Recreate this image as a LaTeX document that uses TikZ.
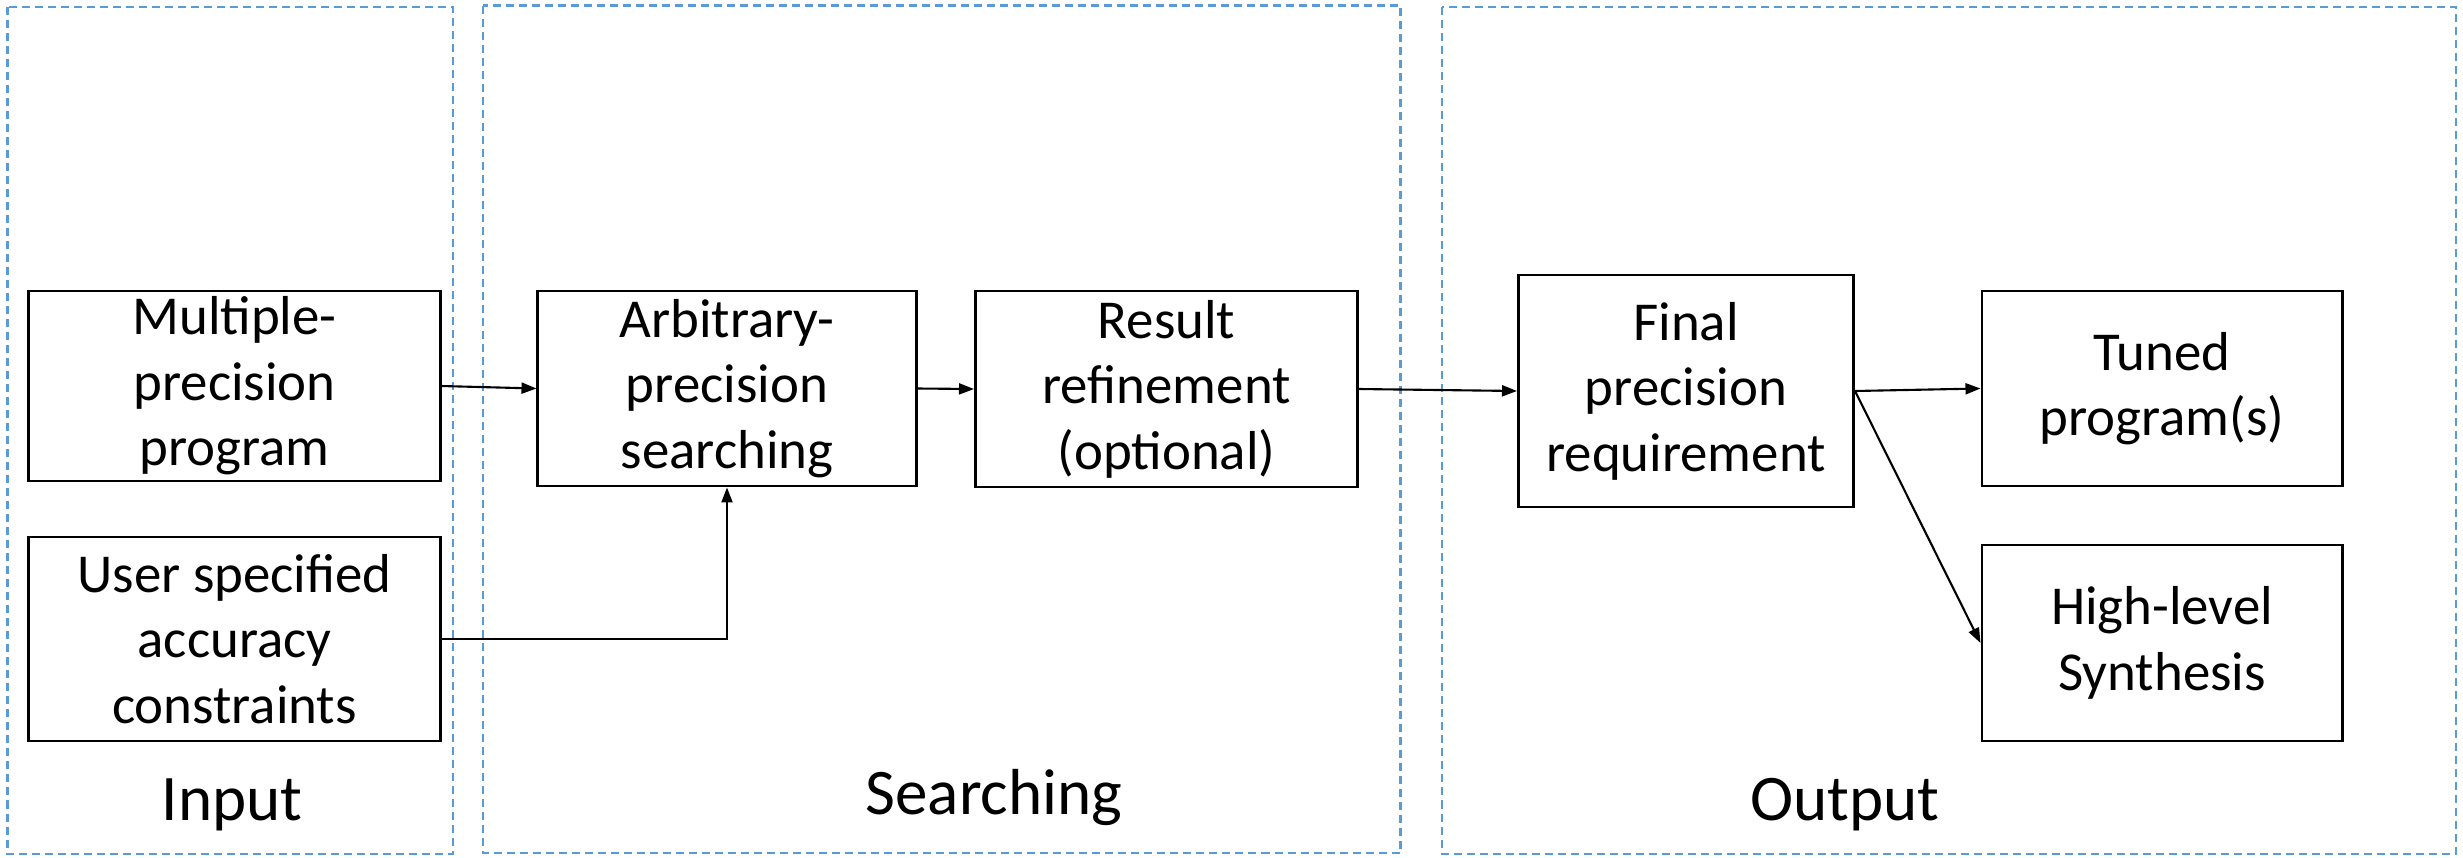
\documentclass[tikz,border=0pt]{standalone}
\usepackage{fontspec}
\setmainfont{Carlito}
\usetikzlibrary{arrows.meta}
\definecolor{grpblue}{RGB}{91,155,213}
\tikzset{
  stepbox/.style={draw=black, line width=0.8pt, align=center, inner sep=0pt,
    font=\fontsize{15.6pt}{18.6pt}\selectfont},
  grp/.style={draw=grpblue, line width=0.6pt, dash pattern=on 0.08cm off 0.05cm},
  grplabel/.style={anchor=base, font=\fontsize{18.5pt}{22pt}\selectfont, inner sep=0pt},
  conn/.style={line width=0.6pt, -{Triangle[length=0.15cm,width=0.11cm]}}
}
\begin{document}
\begin{tikzpicture}[x=0.01cm, y=-0.01cm]
\useasboundingbox (0,0) rectangle (2463,857);
% group frames
\draw[grp] (7.5,7) rectangle (453,854);
\draw[grp] (483,5.5) rectangle (1400.5,853);
\draw[grp] (1442,7) rectangle (2456,854);
% group labels
\node[grplabel] (lin) at (232,820) {Input};
\node[grplabel] (lsearch) at (994,814) {Searching};
\node[grplabel] (lout) at (1845,820) {Output};
% boxes
\node[stepbox, minimum width=4.11cm, minimum height=1.90cm] (multi) at (234.5,386) {Multiple-\\precision\\program};
\node[stepbox, minimum width=4.11cm, minimum height=2.04cm] (user) at (234.5,639) {User specified\\accuracy\\constraints};
\node[stepbox, minimum width=3.78cm, minimum height=1.95cm] (arb) at (727,388.5) {Arbitrary-\\precision\\searching};
\node[stepbox, minimum width=3.82cm, minimum height=1.96cm] (result) at (1166.5,389) {Result\\refinement\\(optional)};
\node[stepbox, minimum width=3.35cm, minimum height=2.32cm] (final) at (1686,391) {Final\\precision\\requirement};
\node[stepbox, minimum width=3.60cm, minimum height=1.95cm] (tuned) at (2162,388.5) {Tuned\\program(s)};
\node[stepbox, minimum width=3.60cm, minimum height=1.96cm] (hls) at (2162,643) {High-level\\Synthesis};
% connectors
\draw[conn] (multi.east) -- (arb.west);
\draw[conn] (user.east) -| (arb.south);
\draw[conn] (arb.east) -- (result.west);
\draw[conn] (result.east) -- (final.west);
\draw[conn] (final.east) -- (tuned.west);
\draw[conn] (final.east) -- (hls.west);
\end{tikzpicture}
\end{document}
